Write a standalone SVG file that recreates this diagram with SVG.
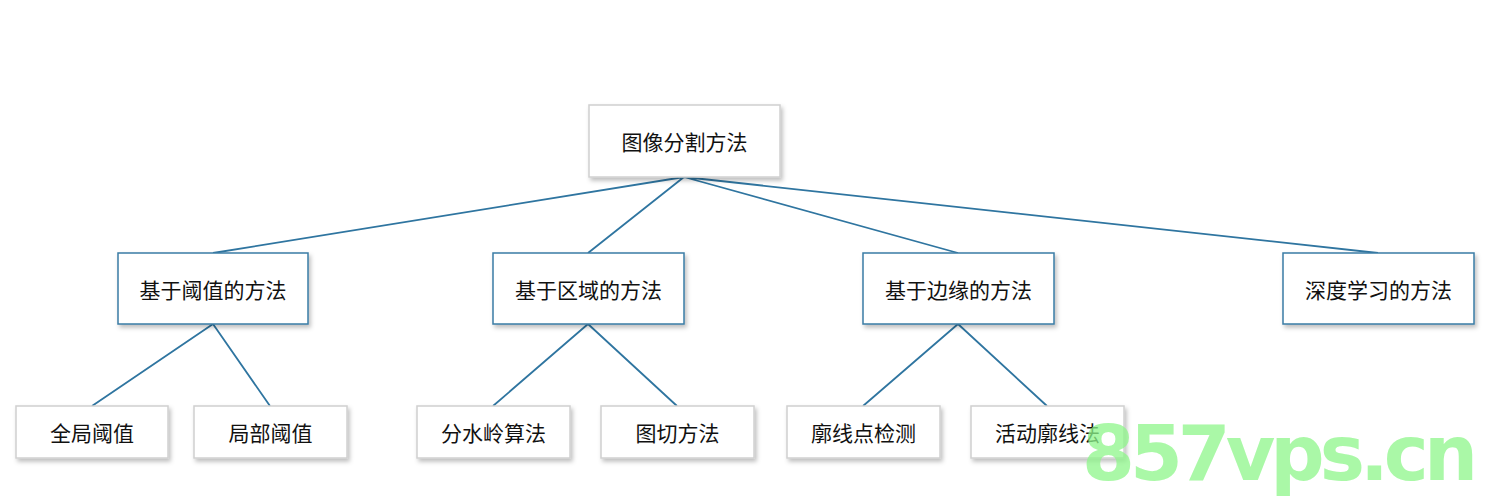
<svg xmlns="http://www.w3.org/2000/svg" width="1495" height="500" viewBox="0 0 1495 500">
<defs>
<filter id="sh" x="-10%" y="-10%" width="130%" height="140%"><feDropShadow dx="2" dy="3" stdDeviation="2" flood-color="#000" flood-opacity="0.25"/></filter>
<style>
.g{fill:#fff;stroke:#d0d0d0;stroke-width:1.5;filter:url(#sh)}
.b{fill:#fff;stroke:#3a7ca5;stroke-width:1.5;filter:url(#sh)}
text{font-family:"Noto Sans CJK SC",sans-serif;font-size:21px;fill:#111;text-anchor:middle;dominant-baseline:central}
.c{stroke:#2f75a0;stroke-width:1.8;fill:none}
</style>
</defs>
<rect width="1495" height="500" fill="#fff"/>
<g id="connectors">
<path class="c" d="M684 177L213 253M684 177L588 253M684 177L958 253M684 177L1378 253M213 324L92 406M213 324L270 406M588 324L493 406M588 324L677 406M958 324L863 406M958 324L1047 406"/>
</g>
<g id="root"><rect class="g" x="589" y="105" width="191" height="72"/><text x="684.5" y="141">图像分割方法</text></g>
<g id="n1"><rect class="b" x="118" y="253" width="190" height="71"/><text x="213" y="288.5">基于阈值的方法</text></g>
<g id="n2"><rect class="b" x="493" y="253" width="191" height="71"/><text x="588.5" y="288.5">基于区域的方法</text></g>
<g id="n3"><rect class="b" x="863" y="253" width="191" height="71"/><text x="958.5" y="288.5">基于边缘的方法</text></g>
<g id="n4"><rect class="b" x="1283" y="253" width="191" height="71"/><text x="1378.5" y="288.5">深度学习的方法</text></g>
<g id="l1"><rect class="g" x="16" y="406" width="152" height="52"/><text x="92" y="432">全局阈值</text></g>
<g id="l2"><rect class="g" x="194" y="406" width="153" height="52"/><text x="270.5" y="432">局部阈值</text></g>
<g id="l3"><rect class="g" x="417" y="406" width="153" height="52"/><text x="493.5" y="432">分水岭算法</text></g>
<g id="l4"><rect class="g" x="601" y="406" width="153" height="52"/><text x="677.5" y="432">图切方法</text></g>
<g id="l5"><rect class="g" x="787" y="406" width="153" height="52"/><text x="863.5" y="432">廓线点检测</text></g>
<g id="l6"><rect class="g" x="971" y="406" width="153" height="52"/><text x="1047.5" y="432">活动廓线法</text></g>
<text x="1280" y="480" style="font-family:'DejaVu Sans',sans-serif;font-size:76px;font-weight:bold;fill:#8ef58a;fill-opacity:0.75;dominant-baseline:auto" textLength="396">857vps.cn</text>
</svg>
